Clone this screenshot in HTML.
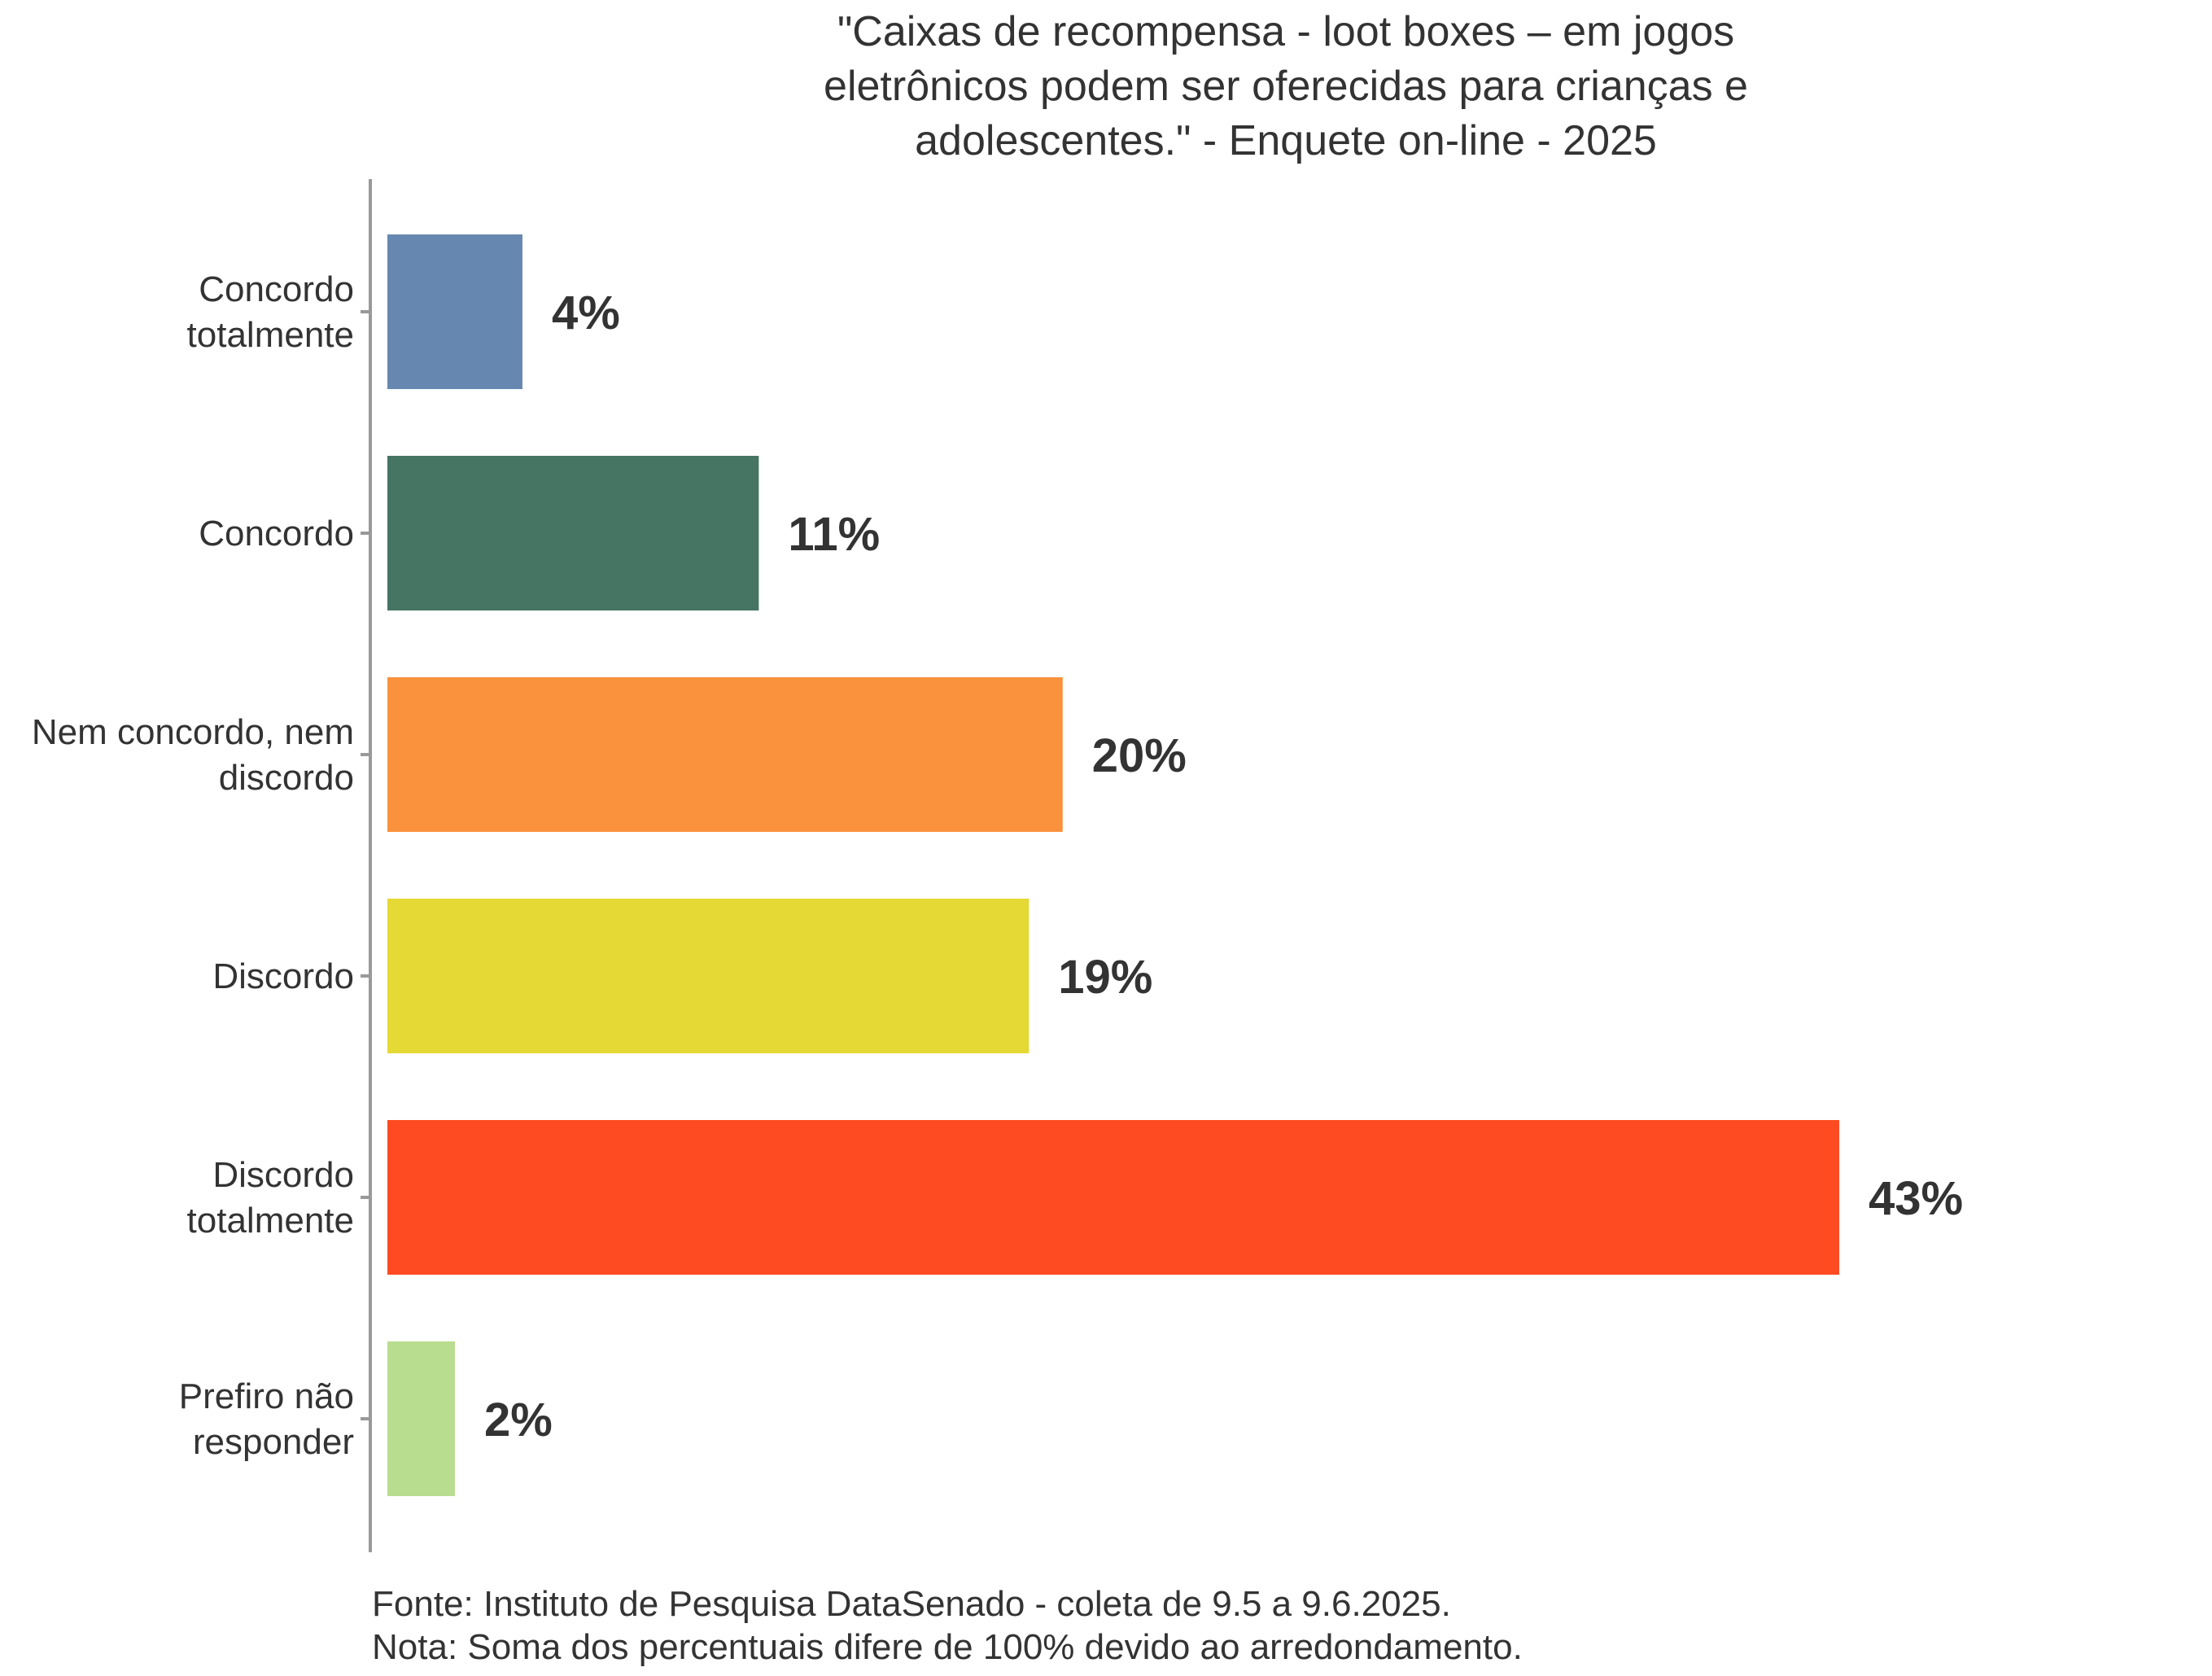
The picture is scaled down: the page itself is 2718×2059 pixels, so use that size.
<!DOCTYPE html>
<html><head><meta charset="utf-8"><style>
body{margin:0;background:#fff;}
svg{display:block;}
</style></head><body>
<svg id="chart" width="2718" height="2059" xmlns="http://www.w3.org/2000/svg">
<g font-family="'Liberation Sans', sans-serif" font-size="52" fill="#333" text-anchor="middle">
<text x="1580" y="56">"Caixas de recompensa - loot boxes – em jogos</text>
<text x="1580" y="123">eletrônicos podem ser oferecidas para crianças e</text>
<text x="1580" y="190">adolescentes." - Enquete on-line - 2025</text>
</g>
<line x1="455" y1="220" x2="455" y2="1907" stroke="#999" stroke-width="4"/>
<g id="bars"></g>
<g font-family="'Liberation Sans', sans-serif" font-size="44" fill="#333">
<text x="457" y="1985">Fonte: Instituto de Pesquisa DataSenado - coleta de 9.5 a 9.6.2025.</text>
<text x="457" y="2038">Nota: Soma dos percentuais difere de 100% devido ao arredondamento.</text>
</g>
</svg>
<script>
const categories = [["Concordo","totalmente"],["Concordo"],["Nem concordo, nem","discordo"],["Discordo"],["Discordo","totalmente"],["Prefiro não","responder"]];
const values = [4, 11, 20, 19, 43, 2];
const valueLabels = ["4%","11%","20%","19%","43%","2%"];
const colors = ["#6688B0","#467563","#FA913C","#E5D935","#FF4B21","#B9DD8F"];
const NS = "http://www.w3.org/2000/svg";
const x0 = 476, pxPerUnit = 1784/43;
const xScale = v => x0 + v*pxPerUnit;
const band = 272, barH = 190, firstCenter = 383;
const yCenter = i => firstCenter + i*band;
const g = document.getElementById('bars');
function mk(tag, attrs){const e=document.createElementNS(NS,tag);for(const k in attrs)e.setAttribute(k,attrs[k]);return e;}
categories.forEach((cat,i)=>{
  const cy = yCenter(i);
  const r = mk('rect',{x:x0,y:cy-barH/2,width:xScale(values[i])-x0,height:barH,fill:colors[i]});
  
  
  g.appendChild(r);
  const t = mk('text',{x:xScale(values[i])+36,y:cy+21,'font-family':"'Liberation Sans', sans-serif",'font-size':'58','font-weight':'bold',fill:'#333'});
  t.textContent = valueLabels[i];
  
  
  g.appendChild(t);
  const tk = mk('line',{x1:443,x2:455,y1:cy,y2:cy,stroke:'#999','stroke-width':4});
  
  
  g.appendChild(tk);
  const lh = 56;
  const startY = cy - (cat.length-1)*lh/2 + 15;
  cat.forEach((line,j)=>{
    const lt = mk('text',{x:435,y:startY+j*lh,'text-anchor':'end','font-family':"'Liberation Sans', sans-serif",'font-size':'44',fill:'#333'});
    lt.textContent = line;
    
    
    g.appendChild(lt);
  });
});
</script>
</body></html>
